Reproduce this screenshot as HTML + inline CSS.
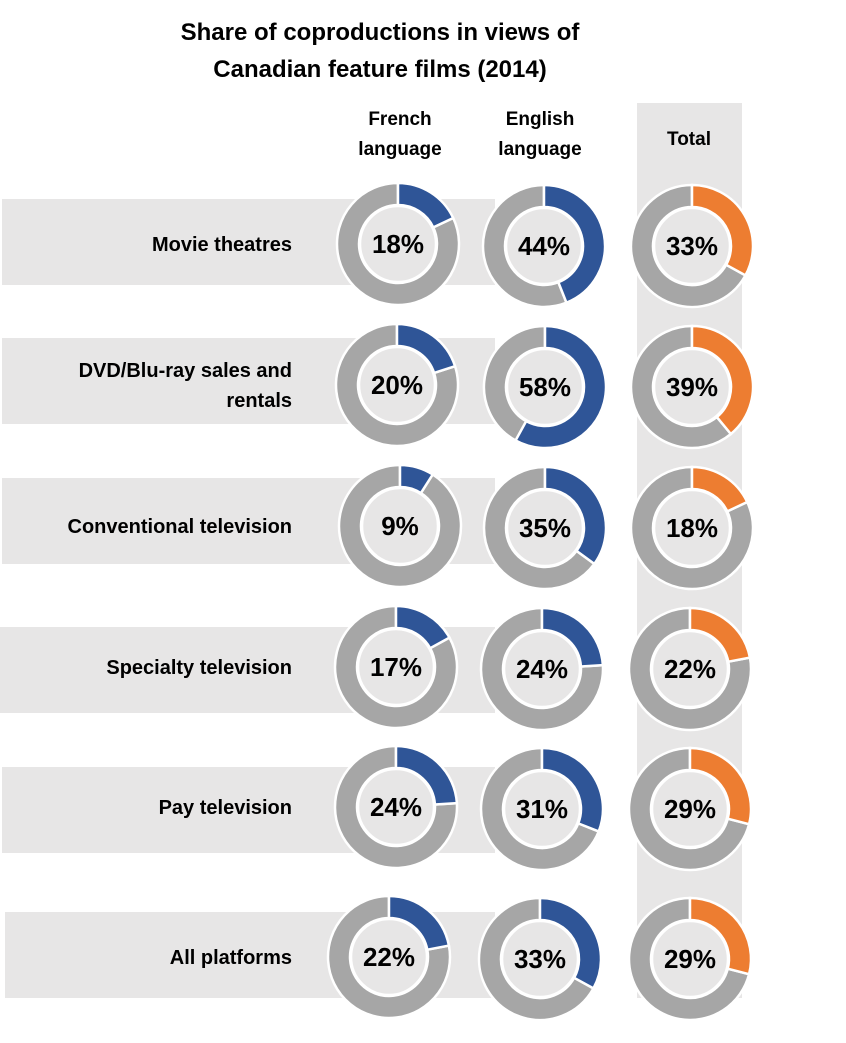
<!DOCTYPE html>
<html><head><meta charset="utf-8"><style>
body{margin:0;background:#fff;}
svg{display:block;font-family:"Liberation Sans",sans-serif;}
</style></head><body>
<svg id="chart" width="846" height="1043" viewBox="0 0 846 1043">
<rect x="637" y="103" width="105" height="895" fill="#e7e6e6"/>
<text x="380" y="40" text-anchor="middle" font-size="24" font-weight="bold">Share of coproductions in views of</text>
<text x="380" y="77" text-anchor="middle" font-size="24" font-weight="bold">Canadian feature films (2014)</text>
<text x="400" y="125" text-anchor="middle" font-size="19" font-weight="bold"><tspan x="400">French</tspan><tspan x="400" dy="30">language</tspan></text>
<text x="540" y="125" text-anchor="middle" font-size="19" font-weight="bold"><tspan x="540">English</tspan><tspan x="540" dy="30">language</tspan></text>
<text x="689" y="145" text-anchor="middle" font-size="19" font-weight="bold">Total</text>
<g id="g"></g>
</svg>
<script>
const categories=[["Movie theatres"],["DVD/Blu-ray sales and","rentals"],["Conventional television"],["Specialty television"],["Pay television"],["All platforms"]];
const frenchValues=[18,20,9,17,24,22];
const englishValues=[44,58,35,24,31,33];
const totalValues=[33,39,18,22,29,29];
const seriesNames=["french","english","total"];
const seriesColors=["#2f5597","#2f5597","#ed7d31"];

const NS="http://www.w3.org/2000/svg";
const g=document.getElementById('g');
const rowY=[244,385,526,667,807,957];
const colX=[[398,544,692],[397,545,692],[400,545,692],[396,542,690],[396,542,690],[389,540,690]];
const bandTop=[199,338,478,627,767,912];
const bandLeft=[2,2,2,0,2,5];
function mk(t,a){const e=document.createElementNS(NS,t);for(const k in a)e.setAttribute(k,a[k]);return e;}
function pt(cx,cy,r,f){const a=f*2*Math.PI;return [cx+r*Math.sin(a),cy-r*Math.cos(a)];}
function arc(cx,cy,R,r,f0,f1){
  const large=(f1-f0)>0.5?1:0;
  const [x1,y1]=pt(cx,cy,R,f0),[x2,y2]=pt(cx,cy,R,f1),[x3,y3]=pt(cx,cy,r,f1),[x4,y4]=pt(cx,cy,r,f0);
  return `M${x1},${y1}A${R},${R} 0 ${large} 1 ${x2},${y2}L${x3},${y3}A${r},${r} 0 ${large} 0 ${x4},${y4}Z`;
}
categories.forEach((lines,i)=>{
  const band=mk('rect',{x:bandLeft[i],y:bandTop[i],width:495-bandLeft[i],height:86,fill:'#e7e6e6'});
  
  
  g.appendChild(band);
});
categories.forEach((lines,i)=>{
  const t=mk('text',{x:297,y:rowY[i]+(lines.length>1?-8:7),'text-anchor':'end','font-size':20,'font-weight':'bold'});
  
  
  lines.forEach((l,j)=>{const s=mk('tspan',{x:292,dy:j?30:0});s.textContent=l;t.appendChild(s);});
  g.appendChild(t);
  const vals=[frenchValues[i],englishValues[i],totalValues[i]];
  vals.forEach((v,k)=>{
    const cx=colX[i][k],cy=rowY[i]+(k?2:0);
    const grp=mk('g',{});
    
    
    const R=61,r=39,f=v/100;
    const p1=mk('path',{d:arc(cx,cy,R,r,0,f),fill:seriesColors[k],stroke:'#fff','stroke-width':2.5});
    
    
    const p2=mk('path',{d:arc(cx,cy,R,r,f,0.99999),fill:'#a6a6a6',stroke:'#fff','stroke-width':2.5});
    
    
    const c=mk('circle',{cx:cx,cy:cy,r:r-1,fill:'#e7e6e6',stroke:'#fff','stroke-width':2.5});
    const tx=mk('text',{x:cx,y:cy+9,'text-anchor':'middle','font-size':26,'font-weight':'bold'});
    tx.textContent=v+'%';
    
    
    grp.appendChild(p2);grp.appendChild(p1);grp.appendChild(c);grp.appendChild(tx);
    g.appendChild(grp);
  });
});
</script>
</body></html>
